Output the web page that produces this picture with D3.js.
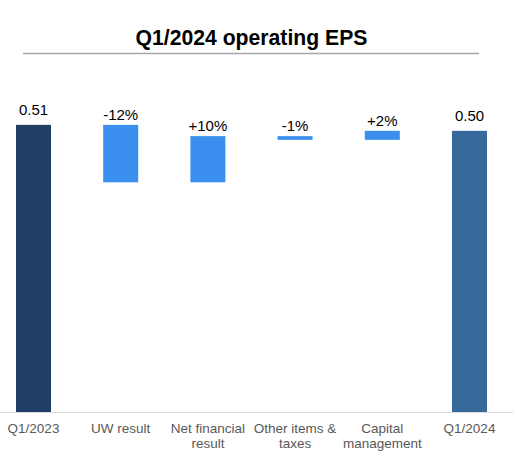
<!DOCTYPE html>
<html><head><meta charset="utf-8">
<script src="https://cdn.jsdelivr.net/npm/d3@7"></script>
<style>body{margin:0;background:#fff}svg{display:block}text{font-family:"Liberation Sans",Arial,sans-serif}</style>
</head><body>
<script>
const title = "Q1/2024 operating EPS";
const categories = [["Q1/2023"],["UW result"],["Net financial","result"],["Other items &","taxes"],["Capital","management"],["Q1/2024"]];
const kinds = ["total","delta","delta","delta","delta","total"];
const values = [0.51, -0.102, 0.082, -0.0066, 0.016, 0.4994];
const labels = ["0.51","-12%","+10%","-1%","+2%","0.50"];
const colors = ["#1F3F66","#3A8FEF","#3A8FEF","#3A8FEF","#3A8FEF","#376A9B"];

const W=517,H=464;
const svg=d3.select("body").append("svg").attr("width",W).attr("height",H);

let run=0;
const bars=values.map((v,i)=>{
  let lo,hi;
  if(kinds[i]==="total"){lo=0;hi=v;run=v;}
  else{const s=run;run=s+v;lo=Math.min(s,run);hi=Math.max(s,run);}
  return {i,lo,hi,label:labels[i],color:colors[i],kind:kinds[i]};
});

const x=d3.scalePoint().domain(d3.range(categories.length)).range([33.5,469.5]);
const y=d3.scaleLinear().domain([0,0.6]).range([412,74.2]);
const bw=35;

svg.append("text").attr("x",251.5).attr("y",45).attr("text-anchor","middle")
  .attr("font-size",21.2).attr("font-weight","bold").attr("fill","#000").text(title);
svg.append("line").attr("x1",23).attr("x2",479).attr("y1",53.5).attr("y2",53.5)
  .attr("stroke","#A6A6A6").attr("stroke-width",1.5);

svg.selectAll("rect.bar").data(bars).join("rect").attr("class","bar")
  .attr("x",d=>x(d.i)-bw/2).attr("width",bw)
  .attr("y",d=>y(d.hi)).attr("height",d=>y(d.lo)-y(d.hi))
  .attr("fill",d=>d.color);

svg.selectAll("text.val").data(bars).join("text").attr("class","val")
  .attr("x",d=>x(d.i)).attr("y",d=>y(d.hi)-(d.kind==="total"?10:5))
  .attr("text-anchor","middle").attr("font-size",15).attr("fill","#000").text(d=>d.label);

svg.append("line").attr("x1",0).attr("x2",513).attr("y1",412.5).attr("y2",412.5)
  .attr("stroke","#D9D9D9").attr("stroke-width",1);

const cat=svg.selectAll("text.cat").data(categories).join("text").attr("class","cat")
  .attr("x",(d,i)=>x(i)).attr("y",433).attr("text-anchor","middle")
  .attr("font-size",13.5).attr("fill","#595959");
cat.selectAll("tspan").data(d=>d).join("tspan").attr("x",function(){return this.parentNode.getAttribute("x");})
  .attr("dy",(d,j)=>j?15:0).text(d=>d);
</script>
</body></html>
